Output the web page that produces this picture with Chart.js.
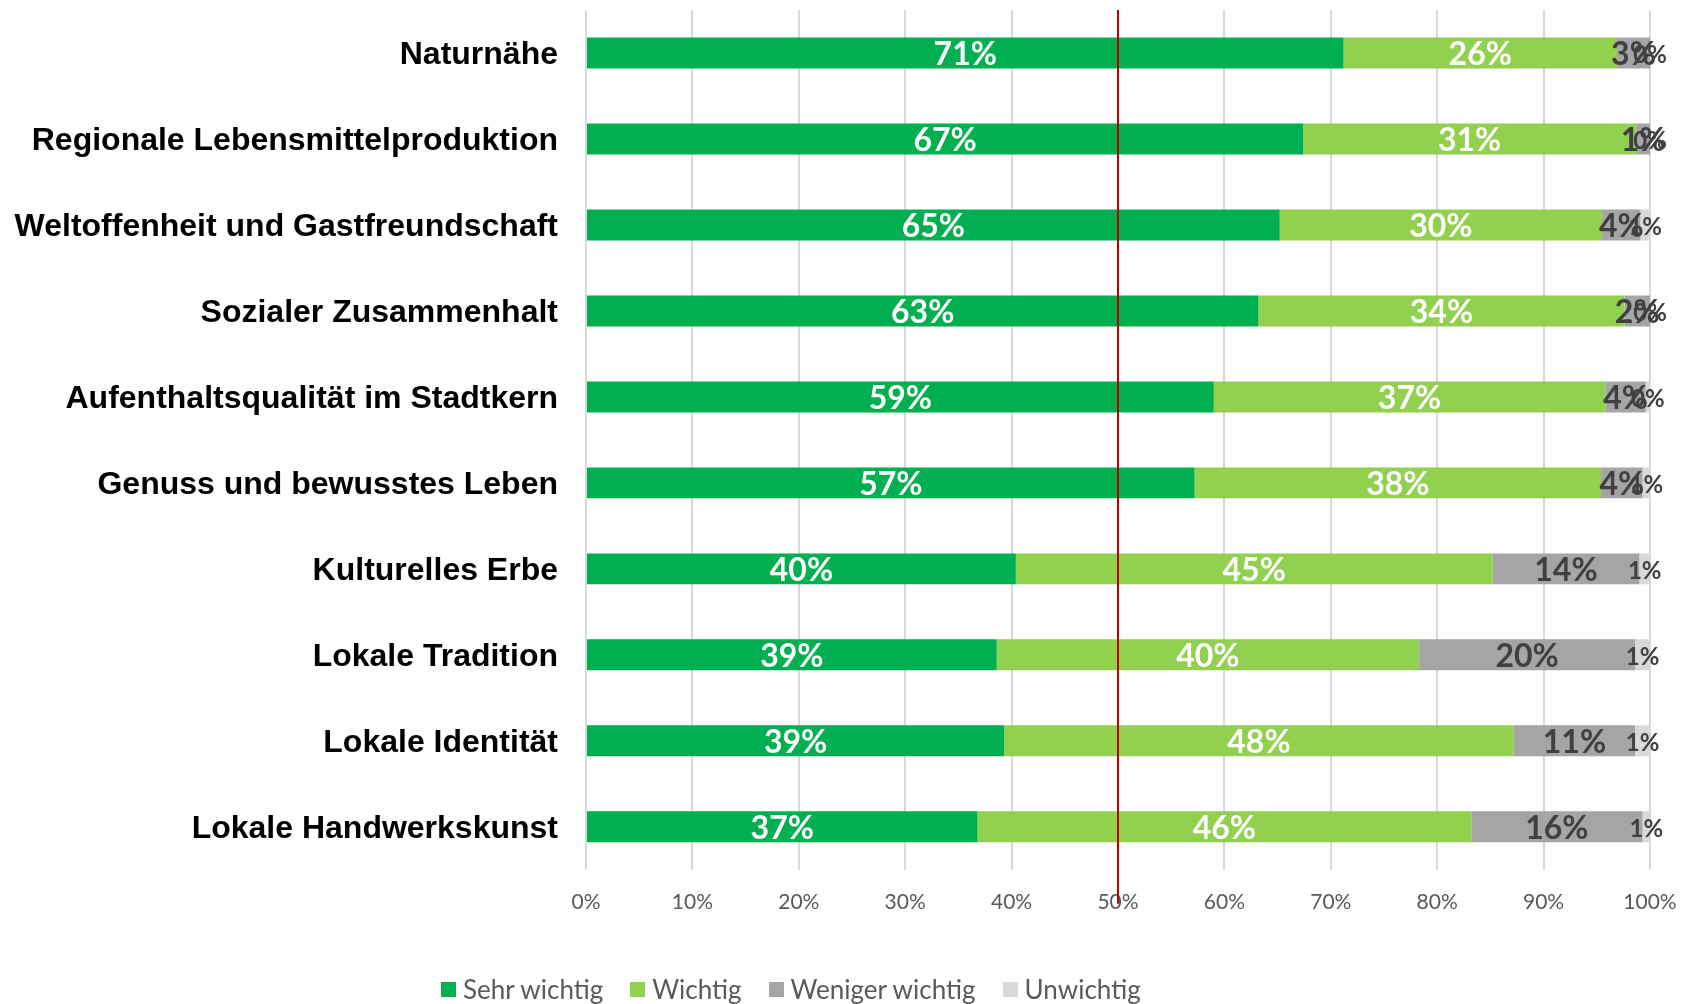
<!DOCTYPE html>
<html>
<head>
<meta charset="utf-8">
<script src="https://cdn.jsdelivr.net/npm/chart.js@4"></script>
<style>
  body { margin: 0; background: #fff; }
  #wrap { position: relative; width: 1691px; height: 1004px; }
  #legend { position: absolute; left: 441px; top: 973px; display: flex; align-items: center;
            font-family: Lato, sans-serif; font-size: 26px; color: #595959; }
  #legend .item { display: flex; align-items: center; margin-right: 27px; }
  #legend .box { width: 15px; height: 15px; margin-right: 7px; }
</style>
</head>
<body>
<div id="wrap">
  <canvas id="chart"></canvas>
  <div id="legend"></div>
</div>
<script>
// data
const categories = [
  "Naturnähe",
  "Regionale Lebensmittelproduktion",
  "Weltoffenheit und Gastfreundschaft",
  "Sozialer Zusammenhalt",
  "Aufenthaltsqualität im Stadtkern",
  "Genuss und bewusstes Leben",
  "Kulturelles Erbe",
  "Lokale Tradition",
  "Lokale Identität",
  "Lokale Handwerkskunst"
];
const seriesNames = ["Sehr wichtig", "Wichtig", "Weniger wichtig", "Unwichtig"];
const sehrWichtig = [71.2, 67.4, 65.2, 63.2, 59.0, 57.2, 40.4, 38.6, 39.3, 36.8];
const wichtig = [25.7, 31.3, 30.3, 34.4, 36.8, 38.2, 44.8, 39.7, 47.9, 46.4];
const wenigerWichtig = [3.1, 1.3, 3.6, 2.4, 3.8, 3.9, 13.8, 20.3, 11.4, 16.1];
const unwichtig = [0, 0, 0.9, 0, 0.4, 0.7, 1.0, 1.4, 1.4, 0.7];
const markerValue = 50;

const colors = ["#00B050", "#92D050", "#A5A5A5", "#D9D9D9"];
const labelColors = ["#FFFFFF", "#FFFFFF", "#404040", "#404040"];
const labelFonts = ["bold 32px Lato", "bold 32px Lato", "bold 32px Lato", "bold 24px Lato"];

// labels inside the bars
const valueLabels = {
  id: 'valueLabels',
  afterDatasetsDraw(chart) {
    const ctx = chart.ctx;
    chart.data.datasets.forEach(function(ds, i) {
      const meta = chart.getDatasetMeta(i);
      meta.data.forEach(function(bar, j) {
        const p = bar.getProps(['x', 'y', 'base'], true);
        ctx.save();
        ctx.font = labelFonts[i];
        ctx.fillStyle = labelColors[i];
        ctx.textAlign = 'center';
        ctx.textBaseline = 'middle';
        ctx.fillText(Math.round(ds.data[j]) + '%', (p.x + p.base) / 2, p.y + 2);
        ctx.restore();
      });
    });
  }
};

// red 50% line
const markerLine = {
  id: 'markerLine',
  afterDraw(chart) {
    const ctx = chart.ctx;
    const x = chart.scales.x.getPixelForValue(markerValue);
    ctx.save();
    ctx.strokeStyle = '#C00000';
    ctx.lineWidth = 2;
    ctx.beginPath();
    ctx.moveTo(x, chart.chartArea.top);
    ctx.lineTo(x, chart.chartArea.bottom + 34);
    ctx.stroke();
    ctx.restore();
  }
};

const seriesData = [sehrWichtig, wichtig, wenigerWichtig, unwichtig];

const chart = new Chart(document.getElementById('chart'), {
  type: 'bar',
  data: {
    labels: categories,
    datasets: seriesData.map(function(d, i) {
      return {
        label: seriesNames[i],
        data: d,
        backgroundColor: colors[i],
        borderWidth: 0,
        barPercentage: 0.36,
        categoryPercentage: 1
      };
    })
  },
  options: {
    indexAxis: 'y',
    responsive: true,
    maintainAspectRatio: false,
    animation: false,
    layout: { padding: { top: 10, right: 41, bottom: 69, left: 0 } },
    plugins: {
      legend: { display: false },
      tooltip: { enabled: false }
    },
    scales: {
      x: {
        stacked: true,
        min: 0,
        max: 100,
        grid: { color: '#D9D9D9', lineWidth: 2, drawTicks: false },
        border: { display: false },
        ticks: {
          stepSize: 10,
          padding: 20,
          color: '#595959',
          font: { family: 'Lato', size: 21 },
          callback: function(v) { return v + '%'; }
        },
        afterFit: function(scale) { scale.paddingLeft = 0; scale.paddingRight = 0; }
      },
      y: {
        stacked: true,
        grid: { display: false, drawTicks: false },
        border: { display: false },
        ticks: {
          padding: 28,
          labelOffset: 2,
          color: '#000000',
          font: { family: 'Liberation Sans', size: 32, weight: 'bold' }
        },
        afterFit: function(scale) {
          scale.width = 586;
          scale.paddingTop = 0;
          scale.paddingBottom = 0;
        }
      }
    }
  },
  plugins: [valueLabels, markerLine]
});

// legend
const legend = document.getElementById('legend');
seriesNames.forEach(function(name, i) {
  const item = document.createElement('div');
  item.className = 'item';
  item.innerHTML = '<span class="box" style="background:' + colors[i] + '"></span><span>' + name + '</span>';
  legend.appendChild(item);
});
</script>
</body>
</html>
